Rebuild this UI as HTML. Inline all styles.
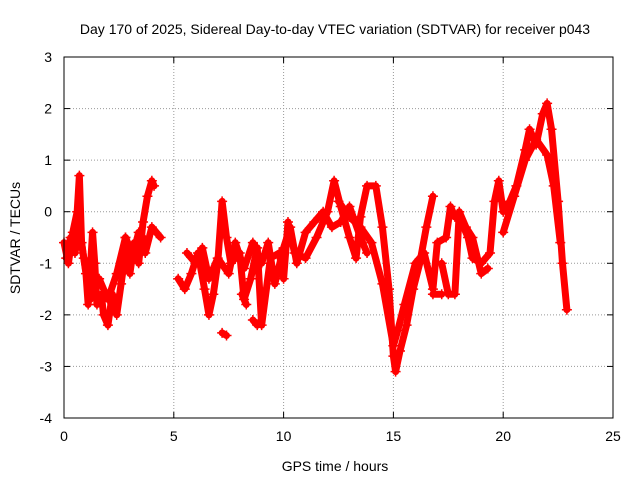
<!DOCTYPE html>
<html><head><meta charset="utf-8"><style>
body{margin:0;background:#fff}
svg{display:block;font-family:"Liberation Sans",sans-serif}
</style></head><body>
<svg id="chart" width="640" height="480">
<rect width="640" height="480" fill="#fff"/>
<text x="335" y="34" font-size="14" text-anchor="middle">Day 170 of 2025, Sidereal Day-to-day VTEC variation (SDTVAR) for receiver p043</text>
<g id="grid"></g><g id="series"></g>
<rect x="64" y="57" width="549" height="361" fill="none" stroke="#000"/>
<text x="335" y="471" font-size="14" text-anchor="middle">GPS time / hours</text>
<text transform="translate(20,238) rotate(-90)" font-size="14" text-anchor="middle">SDTVAR / TECUs</text>
</svg>
<script>
const xTicks=[0,5,10,15,20,25];
const yTicks=[-4,-3,-2,-1,0,1,2,3];
const trackTimes=[
[0,0.2,0.4,0.6,0.7,0.8,1.0,1.1,1.3,1.4,1.5,1.7,1.8,2.0,2.2,2.4,2.6,2.8,3.0,3.2,3.4,3.6,3.8,4.0,4.1],
[2.8,3.1,3.4,3.7,4.0,4.4],
[5.2,5.5,5.8,6.1,6.4,6.6,6.8,7.0,7.2,7.4,7.6,8.0,8.2,8.5,8.8,9.0,9.4,9.8,10.0,10.2,10.5,11.0,11.5,12.0,12.3,12.6,13.0,13.3,13.5,13.8,14.2,14.5,14.8,15.0,15.1,15.3,15.6,15.9,16.2,16.5,16.8],
[12.5,13.0,13.5,14.0,14.5,15.0,15.2,15.5,16.0,16.4,16.8,17.0,17.4,17.6,17.8,18.0,18.4,18.6,19.0,19.4,19.6,19.8,20.0,20.3,20.6,21.0,21.2,21.5,21.8,22.0,22.2,22.5,22.7,22.9],
[20.0,20.5,21.0,21.5,22.0,22.3,22.6],
[17.2,17.5,17.8,18.0,18.3,18.6,19.0,19.3],
[5.6,6.0,6.3,6.6,7.0,7.5,7.8,8.2,8.6,9.0,9.3,9.6,10.0,10.3,10.6,11.0,11.4,11.8,12.2,12.6,13.0,13.5,13.8],
[0.1,0.3,0.5,0.7,0.9,1.2,1.6,2.0,2.4,2.8,3.2,3.6],
[7.2,7.4],[8.1,8.3],[8.6,8.8],[16.8,17.2]
];
const trackValues=[
[-0.6,-1.0,-0.4,0.0,0.7,-0.6,-1.2,-1.8,-0.4,-1.0,-1.8,-1.6,-2.0,-2.2,-1.6,-2.0,-1.4,-0.8,-1.2,-0.6,-1.0,-0.2,0.3,0.6,0.5],
[-0.5,-0.9,-0.4,-0.8,-0.3,-0.5],
[-1.3,-1.5,-1.2,-0.8,-1.5,-2.0,-1.6,-1.0,0.2,-0.5,-1.0,-0.8,-1.7,-1.3,-0.7,-2.2,-0.9,-0.8,-1.3,-0.2,-0.8,-0.9,-0.5,0.0,0.6,0.1,-0.5,-0.9,-0.1,0.5,0.5,-0.3,-1.5,-2.8,-3.1,-2.7,-2.2,-1.5,-1.0,-0.3,0.3],
[0.2,-0.1,-0.3,-0.6,-1.4,-2.6,-2.3,-1.8,-1.0,-0.8,-1.5,-0.6,-0.5,0.1,-0.1,-0.1,-0.5,-0.9,-1.0,-0.8,0.2,0.6,0.0,0.2,0.5,1.2,1.6,1.3,1.9,2.1,1.6,0.2,-1.0,-1.9],
[-0.4,0.3,1.0,1.4,1.1,0.5,-0.6],
[-1.0,-1.6,-1.6,0.0,-0.3,-0.5,-1.2,-1.1],
[-0.8,-1.0,-0.7,-1.3,-0.9,-1.2,-0.6,-1.1,-0.6,-1.0,-0.6,-1.4,-0.7,-0.3,-1.0,-0.4,-0.2,0.0,-0.3,-0.2,0.1,-0.5,-0.8],
[-0.9,-0.5,-0.8,-0.3,-0.9,-1.7,-1.3,-1.7,-1.2,-0.5,-0.9,-0.5],
[-2.35,-2.4],[-1.6,-1.8],[-2.1,-2.2],[-1.6,-1.6]
];
const X=t=>64+t*549/25, Y=v=>57+(3-v)*361/7;
const NS='http://www.w3.org/2000/svg';
const grid=document.getElementById('grid'), ser=document.getElementById('series'), svg=document.getElementById('chart');
function mk(tag,at,parent){const e=document.createElementNS(NS,tag);for(const k in at)e.setAttribute(k,at[k]);parent.appendChild(e);return e;}
xTicks.forEach(t=>{
 if(t>0&&t<25){const g=mk('line',{x1:X(t),x2:X(t),y1:57,y2:418,stroke:'#999','stroke-dasharray':'1,2'},grid);
 
 }
 mk('line',{x1:X(t),x2:X(t),y1:418,y2:412,stroke:'#000'},grid);
 mk('line',{x1:X(t),x2:X(t),y1:57,y2:63,stroke:'#000'},grid);
 const l=mk('text',{x:X(t),y:441,'font-size':14,'text-anchor':'middle'},svg);l.textContent=t;
 
 
});
yTicks.forEach(v=>{
 if(v>-4&&v<3){const g=mk('line',{x1:64,x2:613,y1:Y(v),y2:Y(v),stroke:'#999','stroke-dasharray':'1,2'},grid);
 
 }
 mk('line',{x1:64,x2:70,y1:Y(v),y2:Y(v),stroke:'#000'},grid);
 mk('line',{x1:607,x2:613,y1:Y(v),y2:Y(v),stroke:'#000'},grid);
 const l=mk('text',{x:52,y:Y(v)+5,'font-size':14,'text-anchor':'end'},svg);l.textContent=v;
 
 
});
trackTimes.forEach((ts,i)=>{
 const vs=trackValues[i];
 const pts=ts.map((t,j)=>X(t)+','+Y(vs[j])).join(' ');
 const pl=mk('polyline',{points:pts,fill:'none',stroke:'#f00','stroke-width':7,'stroke-linejoin':'round','stroke-linecap':'round'},ser);
 
 
 ts.forEach((t,j)=>{
  const x=X(t),y=Y(vs[j]);
  const p=mk('path',{d:`M${x-5},${y}h10M${x},${y-5}v10`,stroke:'#f00','stroke-width':1.5},ser);
  
  
 });
});
</script>
</body></html>
